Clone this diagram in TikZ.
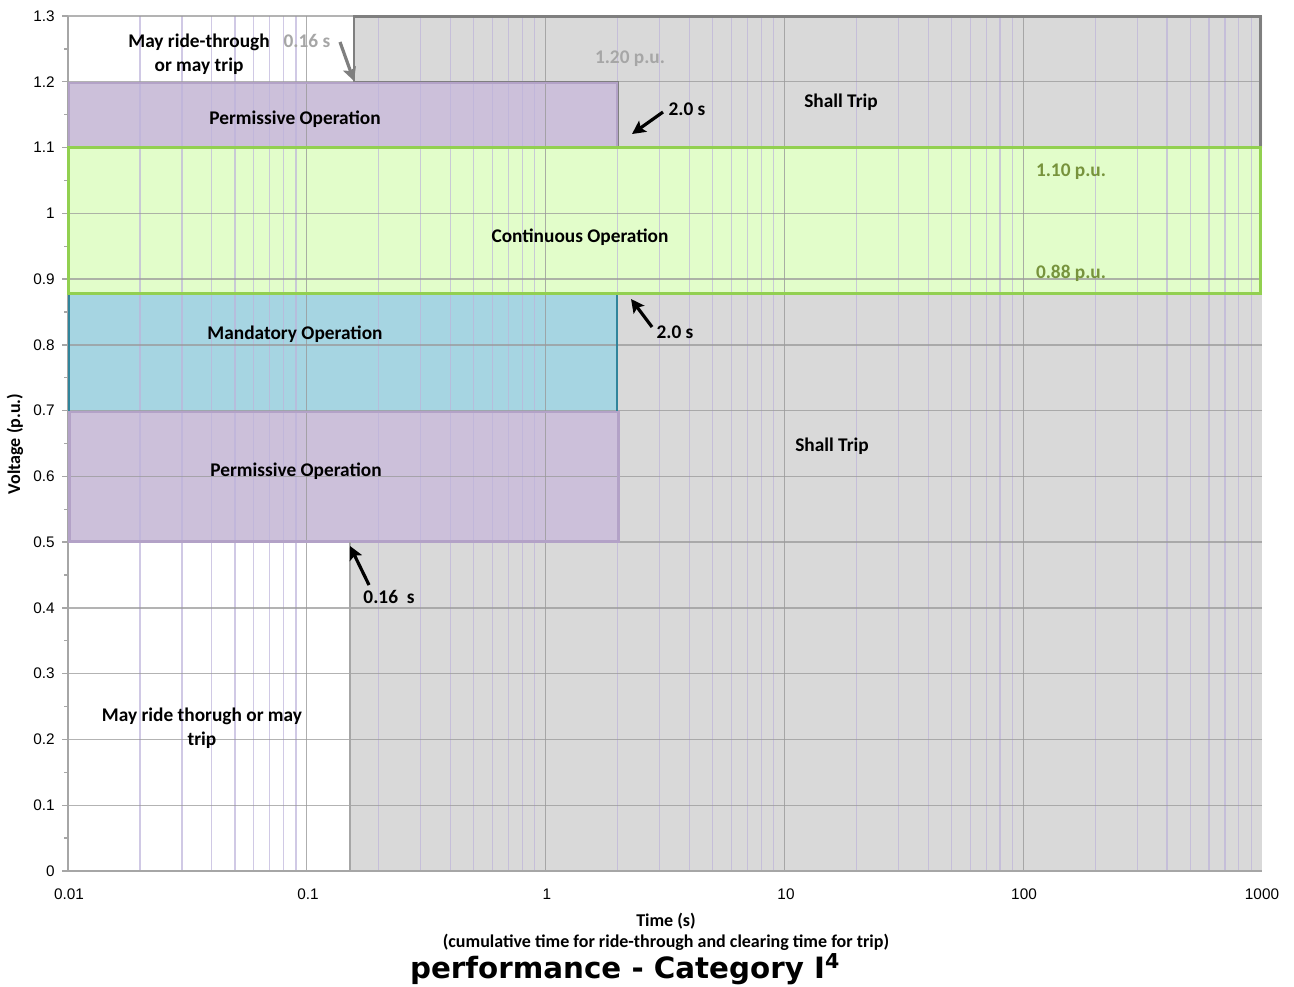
\documentclass[tikz,border=0pt]{standalone}
\usepackage{fontspec}
\setmainfont{Carlito}
\newfontfamily\tickfont{Liberation Sans}
\newfontfamily\titlefont{DejaVu Sans}
\usetikzlibrary{arrows.meta}
\definecolor{tripgray}{HTML}{D9D9D9}
\definecolor{tripedge}{HTML}{7F7F7F}
\definecolor{permfill}{HTML}{CCC0DA}
\definecolor{permedge}{HTML}{B3A2C7}
\definecolor{contfill}{HTML}{E2FDCA}
\definecolor{contedge}{HTML}{92D050}
\definecolor{mandfill}{HTML}{A6D5E2}
\definecolor{mandedge}{HTML}{31849B}
\definecolor{gridmaj}{HTML}{9A9A9A}
\definecolor{gridmin}{HTML}{BDB3DA}
\definecolor{pugreen}{HTML}{77933C}
\definecolor{pugray}{HTML}{A6A6A6}
\definecolor{axisgray}{HTML}{A6A6A6}
\begin{document}
\begin{tikzpicture}[x=0.75pt,y=-0.75pt,
  lbl/.style={font=\fontsize{14.5pt}{18pt}\selectfont\bfseries, text=black, inner sep=0pt, align=center},
  pulbl/.style={font=\fontsize{14.5pt}{18pt}\selectfont\bfseries, inner sep=0pt},
  ticklbl/.style={font=\tickfont\fontsize{11.5pt}{13pt}\selectfont, text=black, inner sep=0pt},
  axtitle/.style={font=\fontsize{13.5pt}{16pt}\selectfont\bfseries, inner sep=0pt},
  callout/.style={line width=2.4pt, -{Stealth[length=10pt,width=10pt,inset=2pt]}},
  hgrid/.style={gridmaj, line width=1pt, opacity=0.75},
  vmin/.style={gridmin, line width=0.9pt, opacity=0.7},
  vmaj/.style={gridmaj, line width=1pt, opacity=0.8}]
\useasboundingbox[fill=white] (0,0) rectangle (1294,986);

% ---- region fills ----
\fill[tripgray] (354,16) -- (1262,16) -- (1262,147.5) -- (617.5,147.5) -- (617.5,81.8) -- (354,81.8) -- cycle;
\fill[tripgray] (350,292.2) rectangle (1262,871);
\fill[permfill] (68,81.8) rectangle (617.5,147.5);
\fill[contfill] (68,147.5) rectangle (1262,292.2);
\fill[mandfill] (68,292.2) rectangle (617.5,410.6);
\fill[permfill] (68,410.6) rectangle (619,542.2);

% ---- grid ----
\foreach \d in {68,306.8,545.6,784.4,1023.2}{
  \foreach \m in {71.9,113.9,143.8,166.9,185.8,201.8,215.6,227.9}{
    \draw[vmin] (\d+\m,16) -- (\d+\m,871);
  }
}
\foreach \d in {306.8,545.6,784.4,1023.2}{
  \draw[vmaj] (\d,16) -- (\d,871);
}
\foreach \k in {1,...,13}{
  \draw[hgrid] (68,871-65.77*\k) -- (1262,871-65.77*\k);
}

% ---- axes ----
\draw[axisgray, line width=1.1pt] (68,16) -- (68,871) -- (1262,871);
\foreach \k in {0,...,13}{
  \draw[axisgray, line width=1pt] (62,871-65.77*\k) -- (68,871-65.77*\k);
}
\foreach \k in {0,...,12}{
  \draw[axisgray, line width=1pt] (64,871-65.77*\k-32.9) -- (68,871-65.77*\k-32.9);
}

% ---- region borders ----
\draw[tripedge, line width=2pt] (354,81.8) -- (354,16.5) -- (1260.5,16.5) -- (1260.5,147.5) -- (617.5,147.5);
\draw[tripedge, line width=1.65pt] (617.5,146) -- (617.5,81.8) -- (354,81.8);
\draw[permedge, line width=1.5pt] (69,82.8) rectangle (616.5,146.5);
\draw[mandedge, line width=1.5pt] (68.5,292.2) -- (68.5,410.6);
\draw[mandedge, line width=1.5pt] (617,292.2) -- (617,410.6);
\draw[mandedge!60, line width=0.9pt] (68,293.5) -- (617.5,293.5);
\draw[permedge, line width=1.65pt] (69.5,411.6) rectangle (618.5,541.5);
\draw[axisgray, line width=1.65pt] (350,542.2) -- (350,871);
\draw[contedge, line width=2.25pt] (68,147.8) rectangle (1260.5,293.5);

% ---- labels ----
\node[lbl] (mayrt) at (199,54) {May ride-through\\or may trip};
\node[pulbl, text=pugray] (t016a) at (307,41) {0.16 s};
\node[pulbl, text=pugray] (pu120) at (630,59) {1.20 p.u.};
\node[lbl] (shall1) at (841,102) {Shall Trip};
\node[lbl] (t20a) at (687,109) {2.0 s};
\node[lbl] (perm1) at (295,119) {Permissive Operation};
\node[pulbl, text=pugreen] (pu110) at (1071,172) {1.10 p.u.};
\node[lbl] (cont) at (580,237) {Continuous Operation};
\node[pulbl, text=pugreen] (pu088) at (1071,273) {0.88 p.u.};
\node[lbl] (mand) at (295,334) {Mandatory Operation};
\node[lbl] (t20b) at (675,332) {2.0 s};
\node[lbl] (shall2) at (832,446) {Shall Trip};
\node[lbl] (perm2) at (296,471) {Permissive Operation};
\node[lbl] (t016b) at (389,597) {0.16\ \ s};
\node[lbl] (mayrt2) at (202,728) {May ride thorugh or may\\trip};

% ---- callout arrows ----
\coordinate (a1s) at (340,42);
\coordinate (a1e) at (354,81);
\coordinate (a2s) at (663,112);
\coordinate (a2e) at (632,134);
\coordinate (a3s) at (652,327);
\coordinate (a3e) at (631,299);
\coordinate (a4s) at (369,585);
\coordinate (a4e) at (350,546);
\draw[callout, tripedge] (a1s) -- (a1e);
\draw[callout, black] (a2s) -- (a2e);
\draw[callout, black] (a3s) -- (a3e);
\draw[callout, black] (a4s) -- (a4e);

% ---- tick labels ----
\foreach \v/\k in {0/0,0.1/1,0.2/2,0.3/3,0.4/4,0.5/5,0.6/6,0.7/7,0.8/8,0.9/9,1/10,1.1/11,1.2/12,1.3/13}{
  \node[ticklbl, anchor=east] (ylab\k) at (55,871-65.77*\k) {\v};
}
\node[ticklbl] (x001) at (69,894) {0.01};
\node[ticklbl] (x01) at (308,894) {0.1};
\node[ticklbl] (x1) at (547,894) {1};
\node[ticklbl] (x10) at (786,894) {10};
\node[ticklbl] (x100) at (1024,894) {100};
\node[ticklbl] (x1000) at (1262,894) {1000};

% ---- axis titles ----
\node[axtitle, rotate=90] (ytitle) at (15,444) {Voltage (p.u.)};
\node[axtitle] (xtitle1) at (666,921) {Time (s)};
\node[axtitle] (xtitle2) at (666,942) {(cumulative time for ride-through and clearing time for trip)};
\node[font=\titlefont\bfseries\fontsize{22pt}{26pt}\selectfont, inner sep=0pt] (title) at (625,969) {performance - Category I\textsuperscript{4}};
\end{tikzpicture}
\end{document}
